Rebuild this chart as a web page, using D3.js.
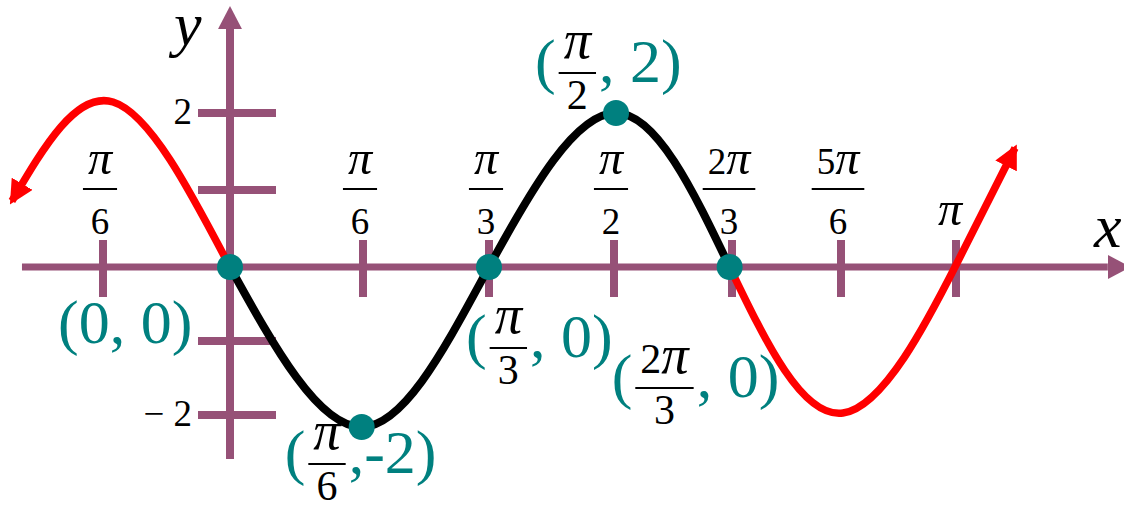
<!DOCTYPE html>
<html><head><meta charset="utf-8">
<script src="https://cdn.jsdelivr.net/npm/d3@7"></script>
<style>html,body{margin:0;padding:0;background:#fff;overflow:hidden}</style>
</head><body>
<svg id="chart" width="1124" height="510"></svg>
<script>
// x values are in units of π/6
const xTickValues = [-1, 1, 2, 3, 4, 5, 6];
const xTickNumerators = ["π","π","π","π","2π","5π","π"];
const xTickDenominators = ["6","6","3","2","3","6",""];
const yTickValues = [-2, -1, 1, 2];
const yTickLabels = ["− 2", "", "", "2"];

// curve key points (zeros, extremes, arrow tips)
const blackX = [0, 0.99, 2.0, 3.017, 3.98];
const blackY = [0, -2.162, 0, 2, 0];
const redLeftX = [0, -0.921, -1.717];
const redLeftY = [0, 2.143, 0.857];
const redRightX = [3.98, 5.017, 6.009, 6.513];
const redRightY = [0, -1.973, 0.052, 1.545];

const pointX = [0, 0.99, 2.0, 3.017, 3.98];
const pointY = [0, -2.162, 0, 2, 0];
const pointLabelOpen = ["(0, 0)", "(", "(", "(", "("];
const pointLabelNum = ["", "π", "π", "π", "2π"];
const pointLabelDen = ["", "6", "3", "2", "3"];
const pointLabelClose = ["", ",-2)", ", 0)", ", 2)", ", 0)"];

const axisXExtent = [-1.638, 7.32];
const axisYExtent = [-2.595, 3.09];

// ---- layout / style ----
const AXIS = "#965177", TEAL = "#00807f", RED = "#ff0000";
const SERIF = "'Liberation Serif','Times New Roman',serif";
const labelDx = [-172, -77, -23, -81, -118];
const labelDy = [76, 46, 90, -31, 130];

const svg = d3.select("#chart");
const x = d3.scaleLinear().domain([-1,0,1,2,3,4,5,6]).range([103,230,363,489,614,732,841,956]);
const y = d3.scaleLinear().domain([-2,-1,0,1,2]).range([415,341,267,190,113]);

const defs = svg.append("defs");
function marker(id, color, len, half, ref) {
  defs.append("marker").attr("id", id).attr("markerUnits","userSpaceOnUse")
    .attr("viewBox", `0 ${-half} ${len} ${2*half}`).attr("refX", ref).attr("refY", 0)
    .attr("markerWidth", len).attr("markerHeight", 2*half).attr("orient","auto")
    .append("path").attr("d", `M0,${-half}L${len},0L0,${half}Z`).attr("fill", color);
}
marker("axArrow", AXIS, 23, 12, 0);
marker("redArrow", RED, 24, 12, 20);

// axes
svg.append("line").attr("x1", x(axisXExtent[0])).attr("x2", x(axisXExtent[1]))
  .attr("y1", y(0)).attr("y2", y(0)).attr("stroke", AXIS).attr("stroke-width", 7)
  .attr("marker-end","url(#axArrow)");
svg.append("line").attr("x1", x(0)).attr("x2", x(0))
  .attr("y1", y(axisYExtent[0])).attr("y2", y(axisYExtent[1])).attr("stroke", AXIS).attr("stroke-width", 8)
  .attr("marker-end","url(#axArrow)");

// ticks
svg.selectAll(".xt").data(xTickValues).enter().append("line")
  .attr("x1", d => x(d)).attr("x2", d => x(d))
  .attr("y1", y(0) - 27).attr("y2", y(0) + 30)
  .attr("stroke", AXIS).attr("stroke-width", 8);
svg.selectAll(".yt").data(yTickValues).enter().append("line")
  .attr("x1", x(0) - 32).attr("x2", x(0) + 46)
  .attr("y1", d => y(d)).attr("y2", d => y(d))
  .attr("stroke", AXIS).attr("stroke-width", 8);

// y tick labels
svg.selectAll(".yl").data(yTickValues).enter().append("text")
  .attr("x", x(0) - 38).attr("y", d => y(d) + 11)
  .attr("text-anchor","end").attr("font-family", SERIF).attr("font-size", 37)
  .text((d,i) => yTickLabels[i]);

// helper: text with a larger italic π
function richText(sel, str, size) {
  const parts = str.match(/π|[^π]+/g) || [];
  parts.forEach(p => {
    const t = sel.append("tspan").text(p);
    if (p === "π") t.attr("font-style", "italic").attr("font-size", size * 1.3);
  });
  return sel;
}
function fraction(g, cx, barY, num, den, size, color, denOff) {
  const tn = richText(g.append("text").attr("x", cx).attr("y", barY - 15)
    .attr("text-anchor","middle").attr("font-family", SERIF).attr("font-size", size).attr("fill", color), num, size);
  const td = g.append("text").attr("x", cx).attr("y", barY + denOff)
    .attr("text-anchor","middle").attr("font-family", SERIF).attr("font-size", size).attr("fill", color).text(den);
  const w = Math.max(tn.node().getComputedTextLength(), td.node().getComputedTextLength()) + 10;
  g.append("line").attr("x1", cx - w/2).attr("x2", cx + w/2).attr("y1", barY).attr("y2", barY)
    .attr("stroke", color).attr("stroke-width", 2);
  return w;
}

// x tick labels
const xl = svg.append("g");
xTickValues.forEach((v, i) => {
  if (xTickDenominators[i]) {
    fraction(xl, x(v) - 3, 189, xTickNumerators[i], xTickDenominators[i], 37, "#000", 45);
  } else {
    richText(xl.append("text").attr("x", x(v) - 6).attr("y", 225).attr("text-anchor","middle")
      .attr("font-family", SERIF).attr("font-size", 37), xTickNumerators[i], 37);
  }
});

// axis titles
svg.append("text").attr("x", 174).attr("y", 45).attr("font-family", SERIF).attr("font-style","italic")
  .attr("font-size", 62).text("y");
svg.append("text").attr("x", 1094).attr("y", 247).attr("font-family", SERIF).attr("font-style","italic")
  .attr("font-size", 62).text("x");

// curves
const line = d3.line().x(d => x(d[0])).y(d => y(d[1])).curve(d3.curveNatural);
const zip = (a, b) => a.map((v, i) => [v, b[i]]);
svg.append("path").attr("d", line(zip(redLeftX, redLeftY))).attr("fill","none")
  .attr("stroke", RED).attr("stroke-width", 7.5).attr("marker-end","url(#redArrow)");
svg.append("path").attr("d", line(zip(redRightX, redRightY))).attr("fill","none")
  .attr("stroke", RED).attr("stroke-width", 7.5).attr("marker-end","url(#redArrow)");
svg.append("path").attr("d", line(zip(blackX, blackY))).attr("fill","none")
  .attr("stroke", "#000").attr("stroke-width", 8).attr("stroke-linejoin","round");

// points
svg.selectAll(".pt").data(pointX).enter().append("circle")
  .attr("cx", d => x(d)).attr("cy", (d,i) => y(pointY[i])).attr("r", 13).attr("fill", TEAL);

// point labels
const pl = svg.append("g");
pointX.forEach((px, i) => {
  let cur = x(px) + labelDx[i];
  const base = y(pointY[i]) + labelDy[i];
  const t1 = pl.append("text").attr("x", cur).attr("y", base).attr("font-family", SERIF)
    .attr("font-size", 62).attr("fill", TEAL).text(pointLabelOpen[i]);
  cur += t1.node().getComputedTextLength();
  if (pointLabelNum[i]) {
    const tmp = richText(pl.append("text").attr("font-family", SERIF).attr("font-size", 42), pointLabelNum[i], 42);
    const tmp2 = pl.append("text").attr("font-family", SERIF).attr("font-size", 42).text(pointLabelDen[i]);
    const w = Math.max(tmp.node().getComputedTextLength(), tmp2.node().getComputedTextLength()) + 10;
    tmp.remove(); tmp2.remove();
    cur += 3;
    fraction(pl, cur + w/2, base - 9, pointLabelNum[i], pointLabelDen[i], 42, "#000", 36);
    cur += w + 3;
    pl.append("text").attr("x", cur).attr("y", base).attr("font-family", SERIF)
      .attr("font-size", 62).attr("fill", TEAL).text(pointLabelClose[i]);
  }
});
</script>
</body></html>
